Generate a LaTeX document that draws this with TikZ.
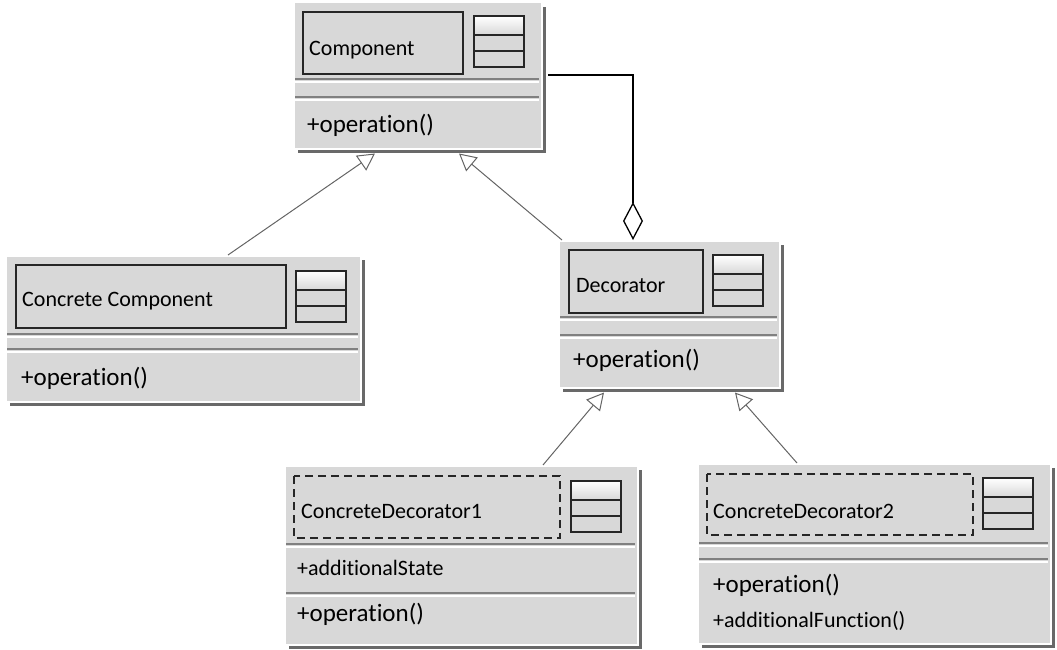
\documentclass[tikz,border=0pt]{standalone}
\usepackage{fontspec}
\setmainfont{Carlito}[Ligatures=NoCommon]
\usetikzlibrary{arrows.meta,calc,positioning,shadows}

\definecolor{boxgray}{RGB}{216,216,216}
\definecolor{shadowgray}{RGB}{105,105,105}
\definecolor{edgedark}{RGB}{38,38,38}
\definecolor{linkgray}{RGB}{100,100,100}

\tikzset{
  classbox/.style={draw=white, line width=1.5pt, fill=boxgray, anchor=north west, inner sep=0pt,
    drop shadow={shadow xshift=4pt, shadow yshift=-4pt, fill=shadowgray, opacity=1}},
  namebox/.style={draw=edgedark, line width=1.6pt, fill=boxgray},
  dashbox/.style={draw=edgedark, line width=1.3pt, dash pattern=on 8pt off 5pt},
  sepdark/.style={draw=black!50, line width=1.3pt},
  seplight/.style={draw=white, line width=1.6pt},
  nametext/.style={anchor=base west, inner sep=0pt, font=\fontsize{22}{26}\selectfont},
  optext/.style={anchor=base west, inner sep=0pt, font=\fontsize{25}{30}\selectfont},
  gen/.style={draw=linkgray, line width=1pt, -{Triangle[open, length=17pt, width=18pt]}},
  agg/.style={draw=black, line width=1.3pt, {Diamond[open, length=38pt, width=20pt]}-},
}

\begin{document}
\begin{tikzpicture}[x=1pt, y=-1pt]
  \useasboundingbox (0,0) rectangle (1057,650);

  % class boxes
  \node[classbox, minimum width=248pt, minimum height=146pt] (comp) at (293,2) {};
  \node[classbox, minimum width=355pt, minimum height=146pt] (cc) at (5,255) {};
  \node[classbox, minimum width=221pt, minimum height=147pt] (dec) at (558,240) {};
  \node[classbox, minimum width=353pt, minimum height=179pt] (cd1) at (284,465) {};
  \node[classbox, minimum width=353pt, minimum height=180pt] (cd2) at (697,463) {};

  % name frames
  \draw[namebox] (303,12) rectangle (463,74);
  \draw[namebox] (16,265) rectangle (286,328);
  \draw[namebox] (569,250) rectangle (703,313);
  \draw[dashbox] (294,476) rectangle (560,538);
  \draw[dashbox] (707,474) rectangle (973,535);

  % class icons
  \foreach \x/\y in {474/16, 296/271, 713/255, 571/481, 983/478} {
    \shade[top color=white, bottom color=boxgray] (\x,\y) rectangle ++(50,19);
    \draw[edgedark, line width=1.8pt] (\x,\y) rectangle ++(50,51);
    \draw[edgedark, line width=1.5pt] (\x,\y+19) -- ++(50,0) (\x,\y+35) -- ++(50,0);
  }

  % compartment lines
  \foreach \l/\r/\y in {295/539/79, 295/539/97, 7/358/334, 7/358/349, 560/777/317, 560/777/335,
                        286/635/544, 286/635/593, 699/1048/543, 699/1048/559} {
    \draw[sepdark] (\l,\y) -- (\r,\y);
    \draw[seplight] (\l,\y+3) -- (\r,\y+3);
  }

  % texts
  \node[nametext] (compname) at (309,56) {Component};
  \node[optext] (compop) at (307,132) {+operation()};
  \node[nametext] (ccname) at (22,306) {Concrete Component};
  \node[optext] (ccop) at (21,385) {+operation()};
  \node[nametext] (decname) at (576,292) {Decorator};
  \node[optext] (decop) at (573,367) {+operation()};
  \node[nametext] (cd1name) at (301,518) {ConcreteDecorator1};
  \node[nametext] (cd1attr) at (297,575) {+additionalState};
  \node[optext] (cd1op) at (297,621) {+operation()};
  \node[nametext] (cd2name) at (713,518) {ConcreteDecorator2};
  \node[optext] (cd2op) at (713,592) {+operation()};
  \node[nametext] (cd2fn) at (713,627) {+additionalFunction()};

  % links
  \draw[gen] ($(cc.north west)+(223,0)$) -- ($(comp.south west)+(82,4)$);
  \draw[gen] ($(dec.north west)+(4,0)$) -- ($(comp.south west)+(166,4)$);
  \draw[gen] ($(cd1.north west)+(259,0)$) -- ($(dec.south west)+(46,4)$);
  \draw[gen] ($(cd2.north west)+(100,0)$) -- ($(dec.south west)+(177,4)$);
  \draw[agg] ($(dec.north west)+(75,0)$) |- ($(comp.north east)+(5,73)$);
\end{tikzpicture}
\end{document}
